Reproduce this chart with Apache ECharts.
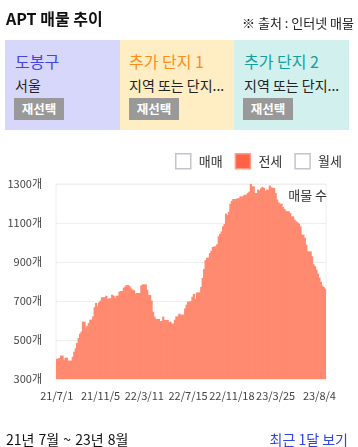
<!DOCTYPE html>
<html>
<head>
<meta charset="utf-8">
<script src="https://cdn.jsdelivr.net/npm/echarts@6/dist/echarts.min.js"></script>
<style>
  html, body { margin: 0; padding: 0; background: #fff; }
  body { width: 358px; height: 447px; position: relative; overflow: hidden;
         font-family: "Noto Sans CJK KR", "Noto Sans", sans-serif; color: #222; }
  #chart { position: absolute; left: 0; top: 0; width: 358px; height: 447px; }
  .abs { position: absolute; white-space: nowrap; }
  #title { left: 6px; top: 8px; height: 20px; line-height: 20px; font-size: 16px; font-weight: bold; color: #111; }
  #source { right: 4px; top: 14px; height: 18px; line-height: 18px; font-size: 13px; color: #222; }
  .card { position: absolute; top: 40px; height: 90px; }
  .card .t { position: absolute; left: 10px; top: 11px; line-height: 20px; font-size: 16px; }
  .card .s { position: absolute; left: 10px; top: 36px; line-height: 18px; font-size: 14px; color: #222; }
  .card .b { position: absolute; left: 9px; top: 58px; width: 50px; height: 22px; line-height: 22px;
             background: #999; color: #fff; font-size: 12.5px; font-weight: bold; text-align: center; }
  #period { left: 6px; top: 430px; line-height: 18px; font-size: 14px; word-spacing: 1px; color: #111; }
  #recent { right: 10px; top: 430px; line-height: 18px; font-size: 14px; color: #2f45e0; }
</style>
</head>
<body>
<div id="chart"></div>
<div id="title" class="abs">APT 매물 추이</div>
<div id="source" class="abs">※ 출처 : 인터넷 매물</div>
<div class="card" style="left:5px;width:115px;background:#d7d7fb;">
  <div class="t" style="color:#4343e6;">도봉구</div>
  <div class="s">서울</div>
  <div class="b">재선택</div>
</div>
<div class="card" style="left:120px;width:114px;background:#ffeec3;">
  <div class="t" style="left:9px;color:#ff8c1a;">추가 단지 1</div>
  <div class="s" style="left:9px;">지역 또는 단지...</div>
  <div class="b">재선택</div>
</div>
<div class="card" style="left:234px;width:115px;background:#d2f0ee;">
  <div class="t" style="color:#14a09a;">추가 단지 2</div>
  <div class="s">지역 또는 단지...</div>
  <div class="b">재선택</div>
</div>
<div id="period" class="abs">21년 7월 ~ 23년 8월</div>
<div id="recent" class="abs">최근 1달 보기</div>
<script>
// ---- data ----
const categories = [
  "21/7/1","21/7/5","21/7/9","21/7/13","21/7/18","21/7/22","21/7/26","21/7/30","21/8/4","21/8/8",
  "21/8/12","21/8/16","21/8/21","21/8/25","21/8/29","21/9/2","21/9/7","21/9/11","21/9/15","21/9/19",
  "21/9/24","21/9/28","21/10/2","21/10/6","21/10/11","21/10/15","21/10/19","21/10/23","21/10/28","21/11/1",
  "21/11/5","21/11/9","21/11/13","21/11/17","21/11/21","21/11/26","21/11/30","21/12/4","21/12/8","21/12/12",
  "21/12/17","21/12/21","21/12/25","21/12/29","22/1/2","22/1/7","22/1/11","22/1/15","22/1/19","22/1/23",
  "22/1/28","22/2/1","22/2/5","22/2/9","22/2/13","22/2/18","22/2/22","22/2/26","22/3/2","22/3/6",
  "22/3/11","22/3/15","22/3/19","22/3/23","22/3/27","22/4/1","22/4/5","22/4/9","22/4/13","22/4/17",
  "22/4/22","22/4/26","22/4/30","22/5/4","22/5/8","22/5/13","22/5/17","22/5/21","22/5/25","22/5/29",
  "22/6/3","22/6/7","22/6/11","22/6/15","22/6/19","22/6/24","22/6/28","22/7/2","22/7/6","22/7/10",
  "22/7/15","22/7/19","22/7/23","22/7/27","22/7/31","22/8/5","22/8/9","22/8/13","22/8/17","22/8/21",
  "22/8/26","22/8/30","22/9/3","22/9/7","22/9/11","22/9/16","22/9/20","22/9/24","22/9/28","22/10/2",
  "22/10/7","22/10/11","22/10/15","22/10/19","22/10/23","22/10/28","22/11/1","22/11/5","22/11/9","22/11/13",
  "22/11/18","22/11/22","22/11/26","22/11/30","22/12/5","22/12/9","22/12/13","22/12/17","22/12/22","22/12/26",
  "22/12/30","23/1/3","23/1/8","23/1/12","23/1/16","23/1/20","23/1/25","23/1/29","23/2/2","23/2/6",
  "23/2/11","23/2/15","23/2/19","23/2/23","23/2/28","23/3/4","23/3/8","23/3/12","23/3/17","23/3/21",
  "23/3/25","23/3/29","23/4/3","23/4/7","23/4/12","23/4/16","23/4/21","23/4/25","23/4/30","23/5/4",
  "23/5/9","23/5/13","23/5/18","23/5/22","23/5/27","23/5/31","23/6/5","23/6/9","23/6/14","23/6/18",
  "23/6/23","23/6/27","23/7/2","23/7/6","23/7/11","23/7/15","23/7/19","23/7/23","23/7/27","23/7/31",
  "23/8/4","23/8/8","23/8/12","23/8/16","23/8/20"
];
const jeonseCounts = [
  404,404,408,420,420,399,409,409,394,394,
  394,414,440,457,485,510,532,543,594,594,
  563,573,587,604,604,621,668,690,673,693,
  702,719,719,719,727,710,714,714,732,727,
  715,727,727,748,751,751,768,775,782,782,
  775,765,758,755,738,741,741,741,780,785,
  785,785,758,731,731,702,645,620,608,608,
  608,597,597,620,603,603,603,591,594,584,
  584,604,621,621,635,630,630,630,662,681,
  697,697,700,722,736,710,743,744,744,772,
  818,864,909,922,922,946,958,977,980,980,
  991,1032,1044,1057,1083,1095,1148,1140,1157,1199,
  1213,1223,1223,1223,1227,1227,1237,1234,1241,1245,
  1245,1254,1261,1302,1288,1288,1254,1254,1271,1266,
  1278,1285,1280,1264,1271,1271,1292,1283,1280,1280,
  1254,1220,1206,1199,1199,1182,1172,1163,1160,1160,
  1151,1134,1134,1117,1109,1103,1097,1083,1040,1040,
  1025,989,955,954,954,929,888,878,861,840,
  820,799,779,772,763
];
const maemaeCounts = [];
const wolseCounts = [];
const legendNames = ["매매", "전세", "월세"];
const yMin = 300, yMax = 1300, yStep = 200;
const xLabelEvery = 30;
const unit = "개";

const FONT = '"Noto Sans CJK KR", "Noto Sans", sans-serif';
const chart = echarts.init(document.getElementById('chart'), null, { renderer: 'canvas' });
const emptyBox = { color: '#fff', borderColor: '#c4c4cc', borderWidth: 1.5 };
chart.setOption({
  animation: false,
  title: {
    text: '매물 수', right: 31, top: 189, padding: 0,
    textStyle: { fontSize: 13, fontWeight: 'normal', color: '#333', fontFamily: FONT }
  },
  legend: {
    right: 11, top: 148, itemWidth: 15, itemHeight: 15, itemGap: 12, icon: 'rect',
    selectedMode: false,
    textStyle: { fontSize: 13, color: '#333', fontFamily: FONT, padding: [0, 0, 0, 3] },
    data: [
      { name: legendNames[0], itemStyle: emptyBox },
      { name: legendNames[1], itemStyle: { color: '#ff6347', borderColor: '#ff9d88', borderWidth: 1.5 } },
      { name: legendNames[2], itemStyle: emptyBox }
    ]
  },
  grid: { left: 56, right: 32, top: 184, bottom: 68, show: true, borderColor: '#eeeeee', borderWidth: 1, backgroundColor: 'transparent' },
  xAxis: {
    type: 'category', data: categories, boundaryGap: true,
    axisLine: { show: false }, axisTick: { show: false },
    axisLabel: { interval: xLabelEvery - 1, fontSize: 11, color: '#444', margin: 11, fontFamily: FONT, hideOverlap: false }
  },
  yAxis: {
    type: 'value', min: yMin, max: yMax, interval: yStep,
    axisLine: { show: false }, axisTick: { show: false },
    axisLabel: { formatter: v => v + unit, fontSize: 11, color: '#444', margin: 14, fontFamily: FONT },
    splitLine: { lineStyle: { color: '#eeeeee', width: 1 } }
  },
  series: [
    { name: legendNames[0], type: 'bar', stack: 'all', data: maemaeCounts, itemStyle: emptyBox },
    { name: legendNames[1], type: 'bar', stack: 'all', data: jeonseCounts, barWidth: 2.2,
      itemStyle: { color: '#ff8a70' } },
    { name: legendNames[2], type: 'bar', stack: 'all', data: wolseCounts, itemStyle: emptyBox }
  ]
});
</script>
</body>
</html>
